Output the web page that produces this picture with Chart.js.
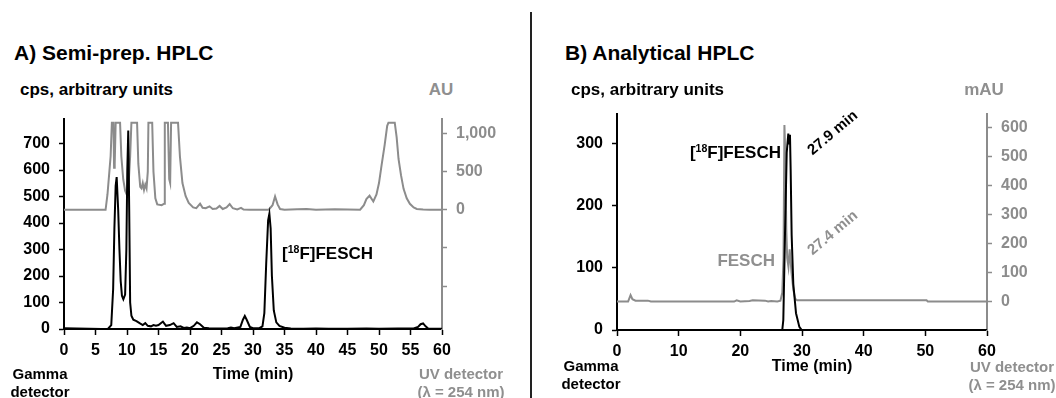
<!DOCTYPE html>
<html>
<head>
<meta charset="utf-8">
<script src="https://cdn.jsdelivr.net/npm/chart.js@4.4.1/dist/chart.umd.min.js"></script>
<style>
  body { margin: 0; width: 1056px; height: 398px; background: #fff; position: relative; overflow: hidden;
         font-family: "Liberation Sans", Arial, sans-serif; font-weight: bold; }
  canvas { position: absolute; }
  .t { position: absolute; line-height: 1; white-space: nowrap; }
  .gray { color: #8f8f8f; }
  .c { transform: translate(-50%, -50%); text-align: center; }
  .l { transform: translateY(-50%); }
  .r { transform: translate(-100%, -50%); }
  sup { font-size: 0.62em; line-height: 0; vertical-align: 0.55em; }
  #divider { position: absolute; left: 530px; top: 12px; width: 2px; height: 386px; background: #222; }
</style>
</head>
<body>
<canvas id="semiCanvas" width="520" height="270" style="left:0px;top:100px"></canvas>
<canvas id="analCanvas" width="526" height="275" style="left:530px;top:95px"></canvas>
<div id="divider"></div>

<div class="t l" style="left:14px;top:52px;font-size:21px">A) Semi-prep. HPLC</div>
<div class="t l" style="left:20px;top:89px;font-size:17px">cps, arbitrary units</div>
<div class="t c gray" style="left:441px;top:89px;font-size:17px">AU</div>
<div class="t l" style="left:282px;top:253px;font-size:17px">[<sup>18</sup>F]FESCH</div>
<div class="t c" style="left:253px;top:374px;font-size:16px">Time (min)</div>
<div class="t c" style="left:40px;top:383px;font-size:15px;line-height:18px">Gamma<br>detector</div>
<div class="t c gray" style="left:461px;top:383px;font-size:15px;line-height:18px">UV detector<br>(&lambda; = 254 nm)</div>

<div class="t l" style="left:565px;top:52px;font-size:21px">B) Analytical HPLC</div>
<div class="t l" style="left:571px;top:89px;font-size:17px">cps, arbitrary units</div>
<div class="t c gray" style="left:984px;top:89px;font-size:17px">mAU</div>
<div class="t r" style="left:781px;top:152px;font-size:17px">[<sup>18</sup>F]FESCH</div>
<div class="t r gray" style="left:775px;top:260px;font-size:17px">FESCH</div>
<div class="t c" style="left:832px;top:132px;font-size:15px;transform:translate(-50%,-50%) rotate(-40deg)">27.9 min</div>
<div class="t c gray" style="left:832px;top:232px;font-size:15px;transform:translate(-50%,-50%) rotate(-40deg)">27.4 min</div>
<div class="t c" style="left:812px;top:366px;font-size:16px">Time (min)</div>
<div class="t c" style="left:591px;top:375px;font-size:15px;line-height:18px">Gamma<br>detector</div>
<div class="t c gray" style="left:1012px;top:376px;font-size:15px;line-height:18px">UV detector<br>(&lambda; = 254 nm)</div>

<script>
// A) semi-preparative run, gamma trace (min, cps)
var semiGammaTime = [0, 2, 4, 6, 7, 7.5, 7.8, 8.0, 8.2, 8.36, 8.6, 8.8, 9.0, 9.2, 9.42, 9.7, 9.9, 10.05, 10.2, 10.35, 10.5, 10.7,
    11.0, 11.5, 12.0, 12.5, 12.9, 13.3, 13.8, 14.2, 14.6, 15.0, 15.7, 16.2, 16.8, 17.4, 17.9, 18.5, 19.0, 19.5, 20.0,
    20.6, 21.1, 21.6, 22.2, 23, 24, 25, 26, 26.5, 27, 28.0, 28.4, 28.7, 29.0, 29.5, 30, 31, 31.5, 31.8, 32.1, 32.4,
    32.6, 32.8, 33.0, 33.3, 33.7, 34.2, 35, 36, 38, 40, 42, 45, 48, 50, 53, 55.5, 56.2, 56.6, 57.0, 57.4, 57.8, 59, 60];
var semiGammaCps = [3, 2, 1, 0, 1, 15, 150, 380, 540, 573, 450, 300, 180, 125, 112, 130, 300, 600, 749, 450, 100, 50,
    35, 30, 22, 15, 22, 12, 10, 15, 12, 15, 28, 12, 15, 22, 8, 10, 4, 6, 3,
    12, 25, 18, 5, 3, 2, 2, 3, 6, 3, 8, 35, 49, 35, 8, 3, 3, 10, 60, 250, 410,
    435, 380, 200, 70, 25, 12, 5, 2, 1, 2, 1, 1, 2, 1, 2, 2, 8, 18, 21, 10, 2, 1, 1];

// A) semi-preparative run, UV trace (min, AU) - flat tops are detector saturation
var semiUvTime = [0, 6.6, 6.9, 7.2, 7.4, 7.6, 7.85, 7.95, 8.05, 8.2, 8.9, 9.1, 9.4, 9.7, 9.95, 10.2, 10.5, 10.7, 11.6, 11.8,
    12.1, 12.3, 12.5, 12.7, 12.9, 13.1, 13.3, 13.4, 14.0, 14.2, 14.5, 14.8, 15.5, 15.9, 16.0, 16.5, 16.7, 16.85, 17.0,
    18.1, 18.4, 18.8, 19.3, 19.8, 20.5, 21.0, 21.6, 22.0, 22.5, 23.1, 23.6, 24.2, 24.7, 25.2, 25.8, 26.3, 26.8, 27.5,
    28.1, 28.5, 29.5, 32.5, 33.1, 33.5, 33.9, 34.3, 35, 37, 38.5, 40, 43, 47.0, 47.6, 48.0, 48.5, 49.1, 49.6, 50.0,
    50.4, 50.9, 51.3, 51.5, 52.5, 52.8, 53.1, 53.5, 53.9, 54.4, 54.9, 55.5, 56.0, 57, 58, 60];
var semiUvAU = [0, 0, 200, 500, 700, 1140, 1140, 550, 600, 1140, 1140, 700, 400, 250, 200, 250, 700, 1140, 1140, 600,
    300, 280, 350, 260, 330, 280, 500, 1140, 1140, 500, 150, 70, 60, 80, 1140, 1140, 400, 350, 1140,
    1140, 700, 350, 180, 90, 30, 20, 80, 25, 20, 45, 10, 15, 50, 10, 30, 75, 20, 5,
    25, 2, 0, 0, 60, 175, 70, 10, 0, 5, 10, 0, 5, 0, 60, 140, 185, 108, 200, 350,
    578, 850, 1100, 1140, 1140, 950, 665, 450, 274, 150, 78, 30, 10, 2, 0, 0];

// B) analytical run, gamma trace (min, cps)
var analGammaTime = [0, 26.8, 26.97, 27.24, 27.52, 27.78, 27.9, 28.05, 28.16, 28.32, 28.59, 29.03, 29.57, 29.95, 60];
var analGammaCps = [0, 0, 16, 153, 285, 316, 300, 314, 258, 153, 74, 27, 5, 0, 0];

// B) analytical run, UV trace (min, mAU)
var analUvTime = [0, 1.8, 2.2, 2.5, 3, 5, 5.5, 19, 19.4, 20, 21.5, 22, 24, 24.5, 25, 26, 26.5, 26.8, 27.0, 27.15, 27.3,
    27.45, 27.6, 27.8, 28.0, 28.3, 28.6, 28.9, 29.2, 50.2, 50.4, 60];
var analUvMAU = [0, 0, 22, 8, 3, 3, 0, 0, 4, 0, 2, 4, 3, 0, 2, 0, 3, 30, 150, 608, 500,
    250, 150, 120, 180, 100, 40, 10, 4, 4, 0, 0];

// tick positions on each axis (negative UV ticks carry no label)
var semiTimeTicks = [0, 5, 10, 15, 20, 25, 30, 35, 40, 45, 50, 55, 60];
var semiCpsTicks = [0, 100, 200, 300, 400, 500, 600, 700];
var semiAuTicks = [-1000, -500, 0, 500, 1000];
var analTimeTicks = [0, 10, 20, 30, 40, 50, 60];
var analCpsTicks = [0, 100, 200, 300];
var analMauTicks = [0, 100, 200, 300, 400, 500, 600];

var FONT = "'Liberation Sans', Arial, sans-serif";
var BLACK = "#000000";
var GRAY = "#8c8c8c";

function pairs(xs, ys) {
    return xs.map(function (x, i) { return { x: x, y: ys[i] }; });
}

function fixWidth(w) { return function (scale) { scale.width = w; }; }
function fixHeight(h) { return function (scale) { scale.height = h; }; }
function useTicks(list) {
    return function (scale) {
        scale.ticks = list.map(function (v) { return { value: v }; });
    };
}

function tickFont() { return { family: FONT, size: 16, weight: "bold" }; }

function buildChart(canvasId, opt) {
    return new Chart(document.getElementById(canvasId), {
        type: "line",
        data: {
            datasets: [
                { data: pairs(opt.gammaTime, opt.gamma), borderColor: BLACK, borderWidth: 2,
                  pointRadius: 0, tension: 0, yAxisID: "y", order: 0 },
                { data: pairs(opt.uvTime, opt.uv), borderColor: GRAY, borderWidth: 2,
                  pointRadius: 0, tension: 0, yAxisID: "y2", order: 1 },
            ],
        },
        options: {
            responsive: false,
            animation: false,
            layout: { padding: { top: opt.padTop, left: 0, right: 0, bottom: 0 } },
            plugins: { legend: { display: false }, tooltip: { enabled: false } },
            scales: {
                x: {
                    type: "linear",
                    min: 0,
                    max: 60,
                    afterFit: fixHeight(opt.xHeight),
                    afterBuildTicks: useTicks(opt.xTicks),
                    border: { color: BLACK, width: 2 },
                    grid: { drawOnChartArea: false, tickLength: 6, color: BLACK, tickWidth: 1.5 },
                    ticks: { autoSkip: false, font: tickFont(), color: BLACK, padding: 6, maxRotation: 0 },
                },
                y: {
                    position: "left",
                    min: 0,
                    max: opt.yMax,
                    afterFit: fixWidth(opt.yWidth),
                    afterBuildTicks: useTicks(opt.yTicks),
                    border: { color: BLACK, width: 2 },
                    grid: { drawOnChartArea: false, tickLength: 5, color: BLACK, tickWidth: 1.5 },
                    ticks: { autoSkip: false, font: tickFont(), color: BLACK, padding: 9 },
                },
                y2: {
                    position: "right",
                    min: opt.y2Min,
                    max: opt.y2Max,
                    afterFit: fixWidth(opt.y2Width),
                    afterBuildTicks: useTicks(opt.y2Ticks),
                    border: { color: GRAY, width: 2 },
                    grid: { drawOnChartArea: false, tickLength: 5, color: GRAY, tickWidth: 1.5 },
                    ticks: {
                        autoSkip: false, font: tickFont(), color: GRAY, padding: 9,
                        callback: function (v) { return v >= 0 ? v.toLocaleString("en-US") : ""; },
                    },
                },
            },
        },
    });
}

buildChart("semiCanvas", {
    gammaTime: semiGammaTime, gamma: semiGammaCps, uvTime: semiUvTime, uv: semiUvAU,
    padTop: 18, xHeight: 41, xTicks: semiTimeTicks,
    yMax: 794, yTicks: semiCpsTicks, yWidth: 64,
    y2Min: -1562, y2Max: 1194, y2Ticks: semiAuTicks, y2Width: 78,
});

buildChart("analCanvas", {
    gammaTime: analGammaTime, gamma: analGammaCps, uvTime: analUvTime, uv: analUvMAU,
    padTop: 15, xHeight: 40, xTicks: analTimeTicks,
    yMax: 348, yTicks: analCpsTicks, yWidth: 87,
    y2Min: -98, y2Max: 647, y2Ticks: analMauTicks, y2Width: 69,
});
</script>
</body>
</html>
